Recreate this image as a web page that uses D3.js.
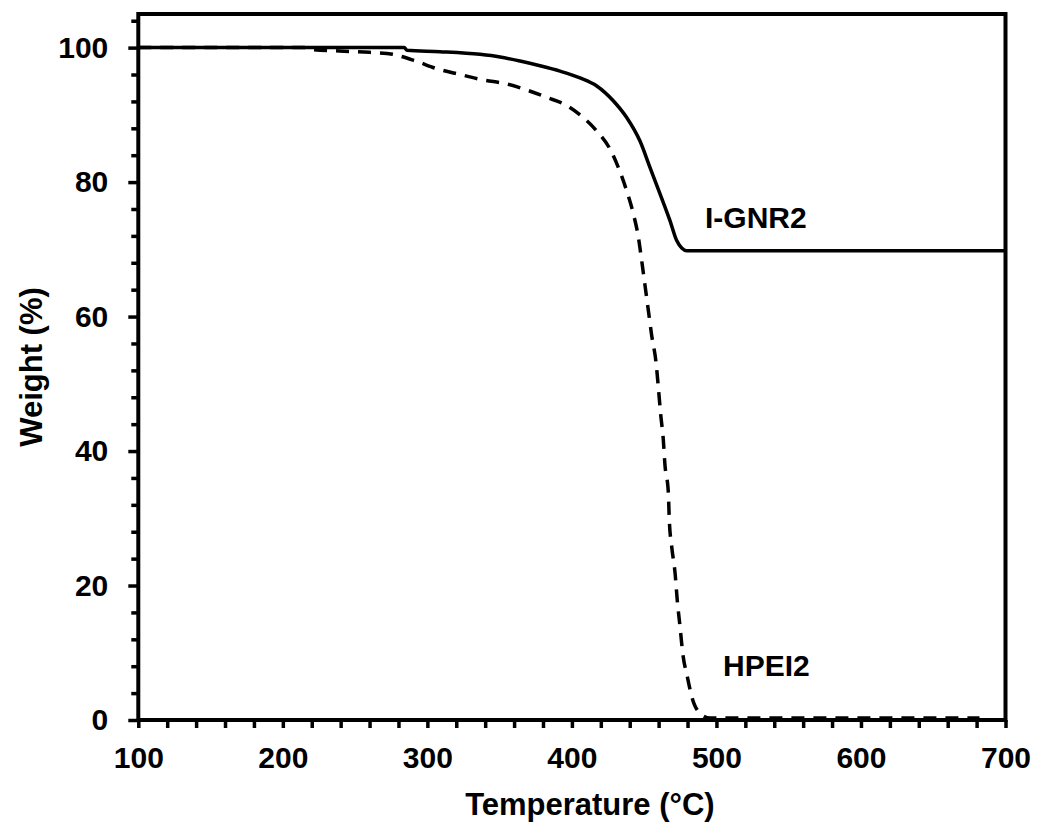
<!DOCTYPE html>
<html><head><meta charset="utf-8">
<script src="https://cdn.jsdelivr.net/npm/d3@7"></script>
<style>
html,body{margin:0;padding:0;background:#fff;}
text{font-family:"Liberation Sans",Arial,sans-serif;font-weight:bold;fill:#000;}
</style></head>
<body>
<svg id="chart" width="1037" height="822"></svg>
<script>
// I-GNR2 (solid)
const tempGNR   = [100,284,286,308.7,336.4,350.3,364.1,377.9,391.8,405.6,417.2,428.6,437.9,447.1,454.0,460.9,467.8,472.5,476,479.4,700];
const weightGNR = [100,100,99.6,99.4,99.0,98.6,98.0,97.3,96.5,95.5,94.3,92.1,89.6,86.1,82.2,78.3,74.3,71.3,70.2,69.8,69.8];
// HPEI2 (dashed)
const tempHPEI   = [100,215,221,239,260,276,292,306,322.6,338.5,354.9,368.7,382.6,396.4,407.9,417.2,426.4,432.1,437.9,442.5,446.0,448.3,450.6,452.9,455.2,458.2,459.8,461.4,463.2,464.4,466.7,467.4,469.1,471.4,472.9,474.8,476.7,479.9,482.9,488.6,495.6,682];
const weightHPEI = [100,100,99.7,99.5,99.3,99.0,98.0,96.9,96.0,95.2,94.6,93.7,92.6,91.4,89.6,87.6,84.9,82.2,78.7,75.3,71.8,68.3,64.6,60.9,57.2,53.2,49.5,45.5,41.8,37.9,33.9,29.7,25.7,21.8,17.8,13.9,9.9,6.4,3.5,1.0,0.3,0.3];
const xTicks = [100,200,300,400,500,600,700];
const yTicks = [0,20,40,60,80,100];
const seriesLabels = ["I-GNR2","HPEI2"];

const svg = d3.select("#chart");
const L = 138.3, R = 1005.5, T = 14, B = 720;
const x = d3.scaleLinear().domain([100,700]).range([L,R]);
const y = d3.scaleLinear().domain([0,105]).range([B,T]);

// minor ticks
const xMinor = d3.range(100,701,20);
const yMinor = d3.range(0,105,4).filter(v=>v%20!==0);

const gx = svg.append("g").attr("transform",`translate(0,${B})`)
  .call(d3.axisBottom(x).tickValues(xMinor).tickSize(8).tickFormat(""));
gx.select(".domain").remove();
gx.selectAll("line").attr("stroke","#000").attr("stroke-width",3.5);

const gyMinor = svg.append("g").attr("transform",`translate(${L},0)`)
  .call(d3.axisLeft(y).tickValues(yMinor).tickSize(7).tickFormat(""));
gyMinor.select(".domain").remove();
gyMinor.selectAll("line").attr("stroke","#000").attr("stroke-width",3.5);

const gy = svg.append("g").attr("transform",`translate(${L},0)`)
  .call(d3.axisLeft(y).tickValues(yTicks).tickSize(10).tickPadding(20));
gy.select(".domain").remove();
gy.selectAll("line").attr("stroke","#000").attr("stroke-width",3.5);
gy.selectAll("text").attr("font-size",30).attr("font-family","Liberation Sans, Arial, sans-serif").attr("font-weight","bold").attr("fill","#000");

const gxl = svg.append("g").attr("transform",`translate(0,${B})`)
  .call(d3.axisBottom(x).tickValues(xTicks).tickSize(0).tickPadding(27));
gxl.select(".domain").remove();
gxl.selectAll("text").attr("font-size",30).attr("font-family","Liberation Sans, Arial, sans-serif").attr("font-weight","bold").attr("fill","#000");

// curves
const line = d3.line().x(d=>x(d[0])).y(d=>y(d[1])).curve(d3.curveMonotoneX);
const gnr = tempGNR.map((t,i)=>[t,weightGNR[i]]);
const hpei = tempHPEI.map((t,i)=>[t,weightHPEI[i]]);

svg.append("path").attr("d",line(hpei)).attr("fill","none").attr("stroke","#000")
  .attr("stroke-width",3.5).attr("stroke-dasharray","13,9");
svg.append("path").attr("d",line(gnr)).attr("fill","none").attr("stroke","#000")
  .attr("stroke-width",3.5);

// frame
svg.append("rect").attr("x",L).attr("y",T).attr("width",R-L).attr("height",B-T)
  .attr("fill","none").attr("stroke","#000").attr("stroke-width",4);

// labels
svg.append("text").attr("x",705).attr("y",228).attr("font-size",30).text(seriesLabels[0]);
svg.append("text").attr("x",723).attr("y",676).attr("font-size",30).text(seriesLabels[1]);

// axis titles
svg.append("text").attr("x",(L+R)/2+18).attr("y",815).attr("text-anchor","middle")
  .attr("font-size",31).text("Temperature (°C)");
svg.append("text").attr("transform",`translate(42,${(T+B)/2}) rotate(-90)`)
  .attr("text-anchor","middle").attr("font-size",31).text("Weight (%)");
</script>
</body></html>
